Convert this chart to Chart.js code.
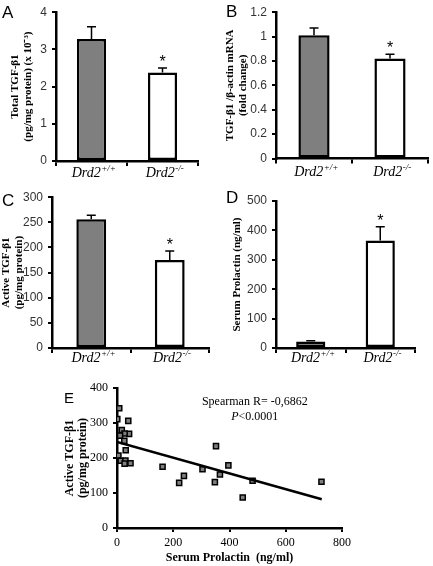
<!DOCTYPE html>
<html>
<head>
<meta charset="utf-8">
<script src="https://cdn.jsdelivr.net/npm/chart.js@4.4.0/dist/chart.umd.min.js"></script>
<style>
    body { margin: 0; background: #fff; }
    #fig { position: relative; width: 433px; height: 566px; overflow: hidden; }
    .panel { position: absolute; }
    .letter { position: absolute; font: 17px "Liberation Sans", Arial, sans-serif; color: #000; line-height: 1; }
</style>
</head>
<body>
<div id="fig">
    <div class="panel" style="left:0;top:0;width:215px;height:185px"><canvas id="chartA"></canvas></div>
    <div class="panel" style="left:215px;top:0;width:218px;height:185px"><canvas id="chartB"></canvas></div>
    <div class="panel" style="left:0;top:185px;width:215px;height:180px"><canvas id="chartC"></canvas></div>
    <div class="panel" style="left:215px;top:185px;width:218px;height:180px"><canvas id="chartD"></canvas></div>
    <div class="panel" style="left:55px;top:375px;width:378px;height:191px"><canvas id="chartE"></canvas></div>
    <div class="letter" style="left:2px;top:4px">A</div>
    <div class="letter" style="left:226px;top:3px">B</div>
    <div class="letter" style="left:2px;top:192px">C</div>
    <div class="letter" style="left:226px;top:189px">D</div>
    <div class="letter" style="left:64px;top:390px;font-size:15px">E</div>
</div>
<script>
// genotypes (x categories)
const genotypeBase = ['Drd2', 'Drd2'];
const genotypeSup = ['+/+', '-/-'];
const significant = [false, true];

// A: total TGF-b1 (x 10^-3)
const totalTgf = [3.28, 2.38];
const totalTgfErr = [0.33, 0.12];
// B: TGF-b1 / b-actin mRNA
const tgfMrna = [1.01, 0.82];
const tgfMrnaErr = [0.06, 0.035];
// C: active TGF-b1
const activeTgf = [256, 175];
const activeTgfErr = [8, 18];
// D: serum prolactin
const prolactin = [22, 366];
const prolactinErr = [3, 46];

// E: scatter, serum prolactin vs active TGF-b1
const scatterProlactin = [8, 1, 40, 17, 43, 27, 11, 26, 31, 5, 13, 30, 27, 48,
    162, 221, 238, 304, 352, 348, 366, 396, 482, 447, 727];
const scatterTgf = [342, 311, 306, 280, 269, 270, 264, 249, 222, 207, 192, 193, 184, 185,
    175, 129, 149, 168, 234, 131, 153, 179, 135, 87, 132];
// regression line end points
const fitProlactin = [0, 728];
const fitTgf = [246, 82];

const sans = '"Liberation Sans", Arial, sans-serif';
const serif = '"Liberation Serif", "Times New Roman", serif';

/**
 * Bar panel (A-D): two bars with one-sided error bars, asterisk and
 * italic genotype labels with superscripts under the x axis.
 */
const makeBarChart = (id, cfg) => {
    const errPlugin = {
        id: 'errAndLabels',
        afterDatasetsDraw(chart) {
            const { ctx, scales: { x, y } } = chart;
            const meta = chart.getDatasetMeta(0);
            ctx.save();
            ctx.strokeStyle = '#000';
            ctx.fillStyle = '#000';
            ctx.lineWidth = 1.5;
            meta.data.forEach((bar, i) => {
                const top = y.getPixelForValue(cfg.values[i] + cfg.errors[i]);
                ctx.beginPath();
                ctx.moveTo(bar.x, bar.y);
                ctx.lineTo(bar.x, top);
                ctx.moveTo(bar.x - 4.5, top);
                ctx.lineTo(bar.x + 4.5, top);
                ctx.stroke();
                if (significant[i]) {
                    ctx.font = `16px ${sans}`;
                    ctx.textAlign = 'center';
                    ctx.textBaseline = 'alphabetic';
                    ctx.fillText('*', bar.x, top - 1);
                }
            });

            // genotype labels with superscript
            genotypeBase.forEach((g, i) => {
                const cx = x.getPixelForValue(i);
                ctx.font = `italic 14px ${serif}`;
                const w1 = ctx.measureText(g).width;
                ctx.font = `italic 9px ${serif}`;
                const w2 = ctx.measureText(genotypeSup[i]).width;
                const sx = cx - (w1 + w2) / 2 + 2;
                const base = x.top + cfg.labelDy;
                ctx.textAlign = 'left';
                ctx.textBaseline = 'alphabetic';
                ctx.font = `italic 14px ${serif}`;
                ctx.fillText(g, sx, base);
                ctx.font = `italic 9px ${serif}`;
                ctx.fillText(genotypeSup[i], sx + w1 + 0.5, base - 6);
            });
            ctx.restore();
        }
    };

    return new Chart(document.getElementById(id), {
        type: 'bar',
        data: {
            labels: genotypeBase.map((g, i) => g + genotypeSup[i]),
            datasets: [{
                data: cfg.values,
                backgroundColor: ['#7f7f7f', '#ffffff'],
                borderColor: '#000',
                borderWidth: 2.5,
                borderSkipped: false,
                barPercentage: cfg.barPct,
                categoryPercentage: 1
            }]
        },
        options: {
            responsive: true,
            maintainAspectRatio: false,
            animation: false,
            layout: { padding: { top: cfg.padTop, right: cfg.padRight, left: 0, bottom: 0 } },
            plugins: { legend: { display: false }, tooltip: { enabled: false } },
            scales: {
                x: {
                    offset: true,
                    grid: { offset: true, drawOnChartArea: false, drawTicks: true, tickLength: 5, color: '#000', lineWidth: 2 },
                    border: { display: true, color: '#000', width: 2.5 },
                    ticks: { display: false },
                    afterFit: s => { s.height = cfg.xHeight; }
                },
                y: {
                    min: 0,
                    max: cfg.max,
                    ticks: {
                        stepSize: cfg.step,
                        padding: 5,
                        color: '#333',
                        font: { family: sans, size: 12 },
                        callback: v => String(+v.toFixed(1))
                    },
                    grid: { drawOnChartArea: false, drawTicks: true, tickLength: 4, color: '#000', lineWidth: 2 },
                    border: { display: true, color: '#000', width: 2.5 },
                    title: {
                        display: true,
                        text: cfg.title,
                        color: '#000',
                        font: { family: serif, size: 11, weight: 'bold', lineHeight: '12.5px' },
                        padding: { top: cfg.titlePad, bottom: 0 }
                    },
                    afterFit: s => { s.width = cfg.yWidth; }
                }
            }
        },
        plugins: [errPlugin]
    });
};

makeBarChart('chartA', {
    values: totalTgf, errors: totalTgfErr, max: 4, step: 1, barPct: 0.41,
    title: ['Total TGF-\u03b21', '(pg/mg protein) (x 10\u207b\u00b3)'],
    titlePad: 9, yWidth: 56, xHeight: 24, padTop: 5.5, padRight: 17, labelDy: 16
});
makeBarChart('chartB', {
    values: tgfMrna, errors: tgfMrnaErr, max: 1.2, step: 0.2, barPct: 0.41,
    title: ['TGF-\u03b21 /\u03b2-actin mRNA', '(fold change)'],
    titlePad: 9, yWidth: 61, xHeight: 26.5, padTop: 8, padRight: 5, labelDy: 17
});
makeBarChart('chartC', {
    values: activeTgf, errors: activeTgfErr, max: 300, step: 50, barPct: 0.38,
    title: ['Active TGF-\u03b21', '(pg/mg protein)'],
    titlePad: 0, yWidth: 52, xHeight: 17, padTop: 9, padRight: 6, labelDy: 14
});
makeBarChart('chartD', {
    values: prolactin, errors: prolactinErr, max: 500, step: 100, barPct: 0.42,
    title: 'Serum Prolactin (ng/ml)',
    titlePad: 16, yWidth: 61, xHeight: 17, padTop: 16, padRight: 18, labelDy: 14
});

// E: correlation scatter with regression line and Spearman annotation
const spearmanNote = {
    id: 'spearmanNote',
    afterDatasetsDraw(chart) {
        const { ctx, scales: { x, y } } = chart;
        const cx = x.getPixelForValue(490);
        ctx.save();
        ctx.fillStyle = '#000';
        ctx.textBaseline = 'middle';
        ctx.textAlign = 'center';
        ctx.font = `12px ${serif}`;
        ctx.fillText('Spearman R= -0,6862', cx, y.getPixelForValue(360));
        const yy = y.getPixelForValue(319);
        ctx.font = `italic 12px ${serif}`;
        const wP = ctx.measureText('P').width;
        ctx.font = `12px ${serif}`;
        const wR = ctx.measureText('<0.0001').width;
        const sx = cx - (wP + wR) / 2;
        ctx.textAlign = 'left';
        ctx.font = `italic 12px ${serif}`;
        ctx.fillText('P', sx, yy);
        ctx.font = `12px ${serif}`;
        ctx.fillText('<0.0001', sx + wP, yy);
        ctx.restore();
    }
};

new Chart(document.getElementById('chartE'), {
    type: 'scatter',
    data: {
        datasets: [
            {
                type: 'line',
                data: fitProlactin.map((v, i) => ({ x: v, y: fitTgf[i] })),
                borderColor: '#000',
                borderWidth: 2.5,
                pointRadius: 0,
                fill: false
            },
            {
                data: scatterProlactin.map((v, i) => ({ x: v, y: scatterTgf[i] })),
                pointStyle: 'rect',
                pointRadius: 3.6,
                backgroundColor: '#7f7f7f',
                borderColor: '#000',
                borderWidth: 1.5
            }
        ]
    },
    options: {
        responsive: true,
        maintainAspectRatio: false,
        animation: false,
        layout: { padding: { top: 13, right: 91, left: 0, bottom: 0 } },
        plugins: { legend: { display: false }, tooltip: { enabled: false } },
        scales: {
            x: {
                type: 'linear',
                min: 0,
                max: 800,
                ticks: { stepSize: 200, padding: 4, color: '#000', font: { family: serif, size: 12 } },
                grid: { drawOnChartArea: false, drawTicks: true, tickLength: 4, color: '#000', lineWidth: 2 },
                border: { display: true, color: '#000', width: 2.5 },
                title: {
                    display: true,
                    text: 'Serum Prolactin  (ng/ml)',
                    color: '#000',
                    font: { family: serif, size: 12, weight: 'bold', lineHeight: '13px' },
                    padding: { top: 0, bottom: 2 }
                },
                afterFit: s => { s.height = 38; }
            },
            y: {
                min: 0,
                max: 400,
                ticks: { stepSize: 100, padding: 5, color: '#000', font: { family: serif, size: 12 } },
                grid: { drawOnChartArea: false, drawTicks: true, tickLength: 4, color: '#000', lineWidth: 2 },
                border: { display: true, color: '#000', width: 2.5 },
                title: {
                    display: true,
                    text: ['Active TGF-\u03b21', '(pg/mg protein)'],
                    color: '#000',
                    font: { family: serif, size: 12, weight: 'bold', lineHeight: '12.5px' },
                    padding: { top: 9, bottom: 0 }
                },
                afterFit: s => { s.width = 62; }
            }
        }
    },
    plugins: [spearmanNote]
});
</script>
</body>
</html>
